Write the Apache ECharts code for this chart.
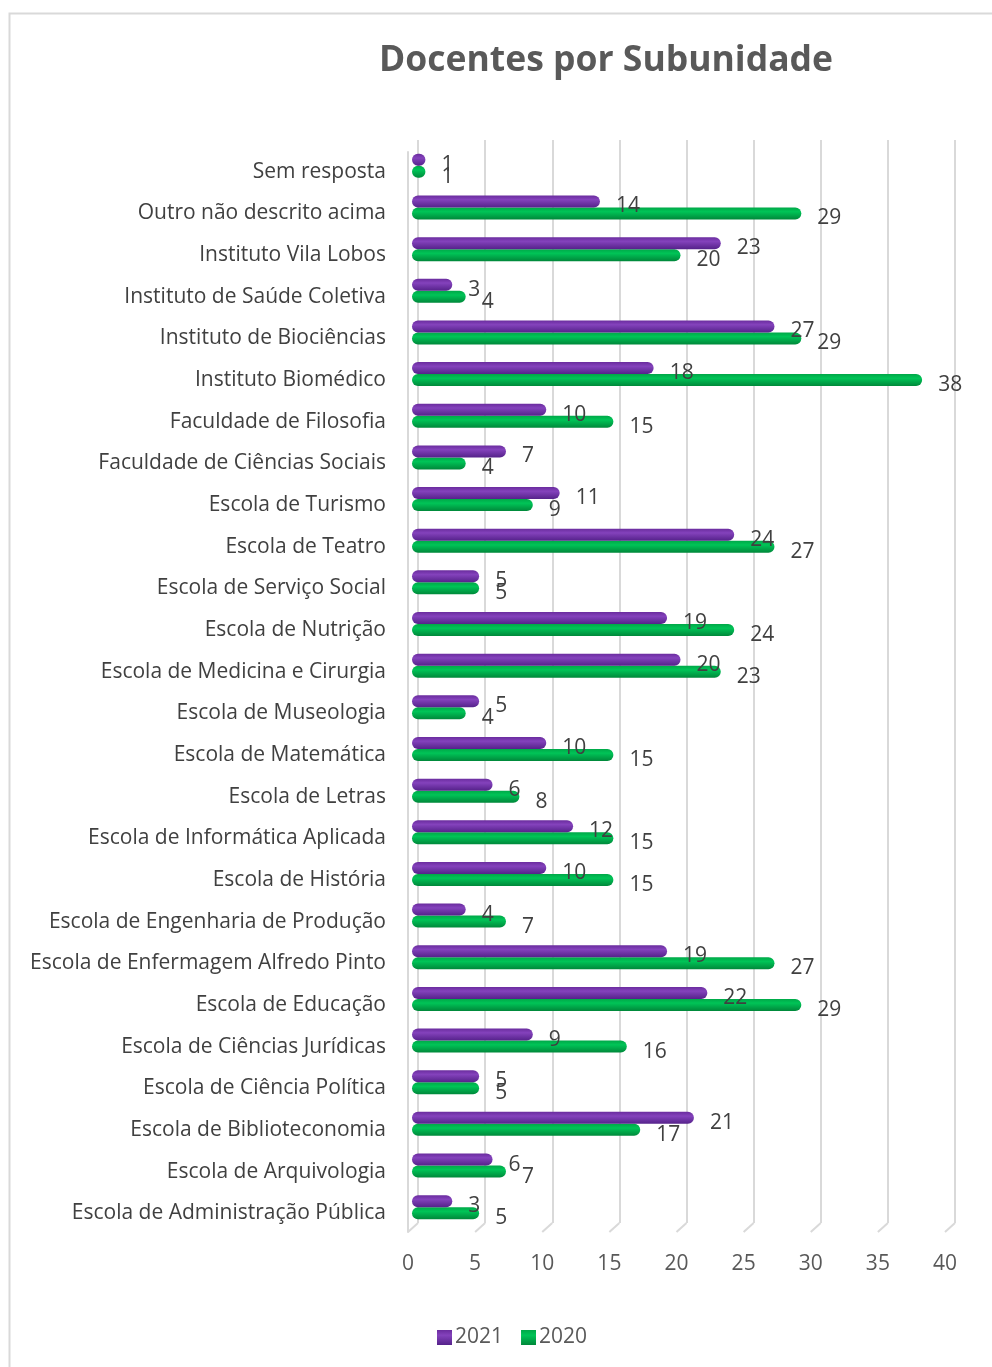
<!DOCTYPE html>
<html>
<head>
  <meta charset="utf-8">
  <title>Docentes por Subunidade</title>
  <script src="https://cdn.jsdelivr.net/npm/echarts@6/dist/echarts.min.js"></script>
  <style>
    html, body { margin: 0; padding: 0; background: #fff; }
    #chart { width: 992px; height: 1367px; }
  </style>
</head>
<body>
  <div id="chart"></div>
  <script>
    // categories listed bottom -> top, as the category axis draws them
    var subunidades = [
      'Escola de Administração Pública',
      'Escola de Arquivologia',
      'Escola de Biblioteconomia',
      'Escola de Ciência Política',
      'Escola de Ciências Jurídicas',
      'Escola de Educação',
      'Escola de Enfermagem Alfredo Pinto',
      'Escola de Engenharia de Produção',
      'Escola de História',
      'Escola de Informática Aplicada',
      'Escola de Letras',
      'Escola de Matemática',
      'Escola de Museologia',
      'Escola de Medicina e Cirurgia',
      'Escola de Nutrição',
      'Escola de Serviço Social',
      'Escola de Teatro',
      'Escola de Turismo',
      'Faculdade de Ciências Sociais',
      'Faculdade de Filosofia',
      'Instituto Biomédico',
      'Instituto de Biociências',
      'Instituto de Saúde Coletiva',
      'Instituto Vila Lobos',
      'Outro não descrito acima',
      'Sem resposta'
    ];
    var docentes2021 = [3, 6, 21, 5, 9, 22, 19, 4, 10, 12, 6, 10, 5, 20, 19, 5, 24, 11, 7, 10, 18, 27, 3, 23, 14, 1];
    var docentes2020 = [5, 7, 17, 5, 16, 29, 27, 7, 15, 15, 8, 15, 4, 23, 24, 5, 27, 9, 4, 15, 38, 29, 4, 20, 29, 1];
    var xTicks = [0, 5, 10, 15, 20, 25, 30, 35, 40];

    var fontName = '"Open Sans", "Noto Sans", sans-serif';
    var gridColor = '#d9d9d9';
    var roxo = new echarts.graphic.LinearGradient(0, 0, 0, 1, [
      { offset: 0, color: '#6A2C9E' },
      { offset: 0.35, color: '#8442BC' },
      { offset: 1, color: '#55228A' }
    ]);
    var verde = new echarts.graphic.LinearGradient(0, 0, 0, 1, [
      { offset: 0, color: '#00A848' },
      { offset: 0.35, color: '#00C457' },
      { offset: 1, color: '#00883A' }
    ]);

    var chart = echarts.init(document.getElementById('chart'));

    function barLabel() {
      return {
        show: true,
        position: 'right',
        distance: 16,
        offset: [0, 5],
        color: '#404040',
        fontFamily: fontName,
        fontSize: 21
      };
    }

    function valueAxis(grid, extra) {
      var ax = {
        type: 'value',
        gridIndex: grid,
        min: xTicks[0],
        max: xTicks[xTicks.length - 1],
        interval: 5,
        axisLine: { show: false },
        axisTick: { show: false },
        axisLabel: { show: false },
        splitLine: { show: false }
      };
      for (var k in extra) ax[k] = extra[k];
      return ax;
    }

    function catAxis(grid, extra) {
      var ax = {
        type: 'category',
        gridIndex: grid,
        data: subunidades,
        axisLine: { show: false },
        axisTick: { show: false },
        axisLabel: { show: false }
      };
      for (var k in extra) ax[k] = extra[k];
      return ax;
    }

    var option = {
      backgroundColor: '#fff',
      animation: false,
      title: {
        text: 'Docentes por Subunidade',
        left: 601,
        textAlign: 'center',
        top: 38,
        textStyle: { color: '#595959', fontFamily: fontName, fontSize: 35.5, fontWeight: 'bold' }
      },
      legend: {
        data: ['2021', '2020'],
        bottom: 14,
        left: 432,
        icon: 'rect',
        itemWidth: 15,
        itemHeight: 15,
        itemGap: 18,
        textStyle: { color: '#595959', fontFamily: fontName, fontSize: 21, padding: [0, 0, 0, -2] }
      },
      grid: [
        // bars
        { left: 412, right: 43, top: 145, bottom: 139 },
        // back wall of the 3D plot: vertical gridlines
        { left: 418, right: 37, top: 140, bottom: 144 },
        // front edge: tick labels and the left edge line
        { left: 408, right: 47, top: 152, bottom: 135 }
      ],
      xAxis: [
        valueAxis(0, {}),
        valueAxis(1, { splitLine: { show: true, lineStyle: { color: gridColor, width: 2 } } }),
        valueAxis(2, { axisLabel: { show: true, color: '#595959', fontFamily: fontName, fontSize: 21, margin: 22 } })
      ],
      yAxis: [
        catAxis(0, { axisLabel: { show: true, color: '#404040', fontFamily: fontName, fontSize: 21, margin: 26, verticalAlign: 'top', lineHeight: 12 } }),
        catAxis(1, {}),
        catAxis(2, { axisLine: { show: true, lineStyle: { color: gridColor, width: 2 } } })
      ],
      series: [{
        name: '2021',
        type: 'bar',
        xAxisIndex: 0,
        yAxisIndex: 0,
        data: docentes2021,
        barWidth: 12,
        barGap: '0%',
        itemStyle: { color: roxo, borderRadius: 6 },
        label: barLabel(),
        z: 3
      }, {
        name: '2020',
        type: 'bar',
        xAxisIndex: 0,
        yAxisIndex: 0,
        data: docentes2020,
        barWidth: 12,
        barGap: '0%',
        itemStyle: { color: verde, borderRadius: 6 },
        label: barLabel(),
        z: 2
      }]
    };

    chart.setOption(option);

    // outer border + floor slants joining back gridlines to the front edge
    var backBottom = 1367 - 144;
    var frontBottom = 1367 - 135;
    var extras = [{
      type: 'rect',
      shape: { x: 9.5, y: 13.5, width: 1000, height: 1400 },
      style: { fill: 'none', stroke: gridColor, lineWidth: 2 },
      silent: true
    }];
    for (var i = 0; i < xTicks.length; i++) {
      var xb = chart.convertToPixel({ xAxisIndex: 1 }, xTicks[i]);
      var xf = chart.convertToPixel({ xAxisIndex: 2 }, xTicks[i]);
      extras.push({
        type: 'line',
        shape: { x1: xb, y1: backBottom, x2: xf, y2: frontBottom },
        style: { stroke: gridColor, lineWidth: 2 },
        silent: true,
        z: -1
      });
    }
    chart.setOption({ graphic: extras });
  </script>
</body>
</html>
